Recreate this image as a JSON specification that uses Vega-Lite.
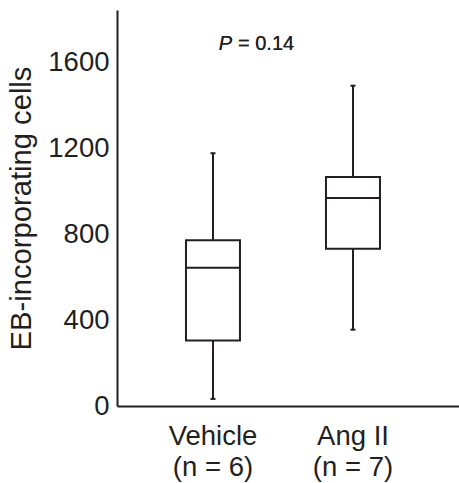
{
  "$schema": "https://vega.github.io/schema/vega-lite/v6.json",
  "width": 342,
  "height": 396,
  "autosize": "none",
  "padding": {"left": 117, "top": 10, "right": 0, "bottom": 77},
  "background": "white",
  "config": {"view": {"stroke": null}, "font": "Liberation Sans"},
  "data": {"values": [
    {"group": "Vehicle", "min": 33, "q1": 306, "median": 645, "q3": 773, "max": 1179},
    {"group": "Ang II", "min": 356, "q1": 734, "median": 970, "q3": 1068, "max": 1494}
  ]},
  "encoding": {
    "x": {
      "field": "group", "type": "nominal", "sort": ["Vehicle", "Ang II"],
      "scale": {"paddingInner": 0, "paddingOuter": 0.2214, "align": 0.419},
      "axis": {
        "title": null, "labelAngle": 0, "ticks": false, "grid": false,
        "domainColor": "#231f20", "domainWidth": 2,
        "labelFontSize": 27.5, "labelColor": "#231f20", "labelLineHeight": 31, "labelPadding": 16,
        "labelExpr": "datum.value == 'Vehicle' ? ['Vehicle', '(n = 6)'] : ['Ang II', '(n = 7)']"
      }
    }
  },
  "layer": [
    {
      "mark": {"type": "rule", "color": "#231f20", "strokeWidth": 2},
      "encoding": {
        "y": {"field": "min", "type": "quantitative",
          "scale": {"domain": [0, 1847], "nice": false, "zero": true},
          "axis": {
            "title": "EB-incorporating cells", "values": [0, 400, 800, 1200, 1600], "format": "d",
            "ticks": false, "grid": false, "domainColor": "#231f20", "domainWidth": 2,
            "labelFontSize": 27.5, "labelColor": "#231f20", "labelPadding": 8,
            "titleFontSize": 29.2, "titleFontWeight": "normal", "titleColor": "#231f20", "titlePadding": 11
          }},
        "y2": {"field": "max"}
      }
    },
    {
      "mark": {"type": "bar", "fill": "white", "stroke": "#231f20", "strokeWidth": 2, "width": 54},
      "encoding": {
        "y": {"field": "q1", "type": "quantitative"},
        "y2": {"field": "q3"}
      }
    },
    {
      "mark": {"type": "tick", "color": "#231f20", "thickness": 2, "size": 54, "opacity": 1},
      "encoding": {"y": {"field": "median", "type": "quantitative"}}
    },
    {
      "mark": {"type": "tick", "color": "#231f20", "thickness": 2, "size": 5, "opacity": 1},
      "encoding": {"y": {"field": "min", "type": "quantitative"}}
    },
    {
      "mark": {"type": "tick", "color": "#231f20", "thickness": 2, "size": 5, "opacity": 1},
      "encoding": {"y": {"field": "max", "type": "quantitative"}}
    },
    {
      "mark": {"type": "text", "text": "P", "fontStyle": "italic", "fontSize": 20, "align": "right", "baseline": "middle", "dx": 19, "color": "#231f20"},
      "encoding": {"x": {"datum": "Vehicle"}, "y": {"datum": 1688}}
    },
    {
      "mark": {"type": "text", "text": "= 0.14", "fontSize": 20, "align": "left", "baseline": "middle", "dx": 25, "color": "#231f20"},
      "encoding": {"x": {"datum": "Vehicle"}, "y": {"datum": 1688}}
    }
  ]
}
